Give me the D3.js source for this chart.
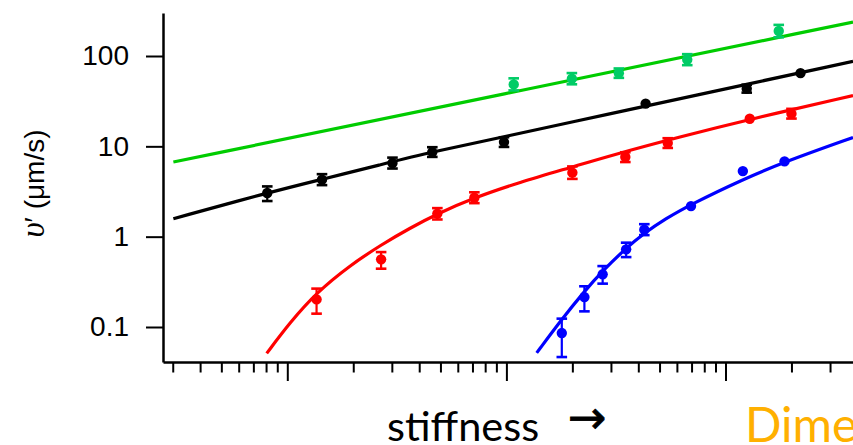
<!DOCTYPE html>
<html><head><meta charset="utf-8">
<script src="https://cdn.jsdelivr.net/npm/d3@7"></script>
<style>body{margin:0;background:#fff;} svg{display:block}</style>
</head><body>
<svg id="c" width="853" height="445"></svg>
<script>
// ---- data ----
const yTicks = [0.1, 1, 10, 100];
const yTickLabels = ["0.1", "1", "10", "100"];

// black series
const blackX  = [0.81, 1.44, 3.02, 4.59, 9.75, 43.2, 125, 220];
const blackY  = [3.04, 4.28, 6.53, 8.64, 11.15, 29.7, 43.5, 64.7];
const blackLo = [2.48, 3.72, 5.68, 7.64, 9.85, null, 39.3, null];
const blackHi = [3.60, 4.92, 7.50, 9.78, 12.6, null, 48.1, null];
const blackFitX = [0.302, 0.810, 1.436, 2.649, 4.575, 9.75, 29.7, 76.5, 382];
const blackFitY = [1.582, 3.054, 4.31, 6.235, 8.686, 12.73, 22.99, 37.6, 87.2];

// red series
const redX  = [1.36, 2.68, 4.84, 7.14, 20.0, 34.9, 54.5, 129, 200];
const redY  = [0.202, 0.561, 1.80, 2.70, 5.11, 7.61, 10.87, 20.2, 23.0];
const redLo = [0.1405, 0.442, 1.55, 2.35, 4.36, 6.7, 9.6, null, 20.3];
const redHi = [0.266, 0.675, 2.07, 3.10, 5.99, 8.6, 12.3, null, 26.0];
const redFitX = [0.8054, 1.0288, 1.362, 1.933, 2.677, 3.631, 4.837, 7.114, 11.54, 19.93, 29.71, 62.0, 129.4, 381.9];
const redFitY = [0.0511, 0.1125, 0.2417, 0.4812, 0.8113, 1.245, 1.788, 2.696, 4.012, 5.895, 7.883, 12.76, 19.94, 36.48];

// green series
const greenX  = [10.8, 19.9, 32.6, 66.9, 175];
const greenY  = [48.5, 56.1, 64.6, 91.1, 189];
const greenLo = [41.6, 48.6, 57.3, 79.2, 161];
const greenHi = [56.6, 64.7, 72.8, 104.8, 221];
const greenFitX = [0.302, 9.35, 382];
const greenFitY = [6.70, 37.2, 237.6];

// blue series
const blueX  = [17.9, 22.7, 27.5, 35.2, 42.6, 69.6, 120, 186];
const blueY  = [0.0857, 0.2145, 0.383, 0.724, 1.195, 2.18, 5.32, 6.82];
const blueLo = [0.0465, 0.149, 0.302, 0.594, 1.04, null, null, null];
const blueHi = [0.1237, 0.2824, 0.4725, 0.858, 1.375, null, null, null];
const blueFitX = [13.75, 17.88, 22.68, 27.52, 35.15, 42.6, 52.95, 69.6, 119.8, 185.5, 381.9];
const blueFitY = [0.0517, 0.1215, 0.248, 0.4194, 0.746, 1.093, 1.566, 2.284, 4.298, 6.714, 12.54];

const yLabelMain = "υ";
const yLabelPrime = "′";
const yLabelRest = " (μm/s)";
const xLabel = "stiffness";
const xArrow = "→";
const cutTitle = "Dime";

// ---- layout ----
const W = 853, H = 445;
const mLeft = 163, mRight = 880, mTop = 13, mBottom = 362;
const svg = d3.select("#c");
svg.append("rect").attr("width", W).attr("height", H).attr("fill", "#fff");

const xs = d3.scaleLog().domain([1, 100]).range([287.3, 725.5]);
xs.domain([xs.invert(mLeft), xs.invert(mRight)]).range([mLeft, mRight]);
const ys = d3.scaleLog().domain([0.1, 100]).range([327, 56]);
ys.domain([ys.invert(mBottom), ys.invert(mTop)]).range([mBottom, mTop]);

const defs = svg.append("defs");
defs.append("clipPath").attr("id", "plot").append("rect")
  .attr("x", mLeft).attr("y", mTop).attr("width", W - mLeft).attr("height", mBottom - mTop);

// ---- axes ----
const xTickVals = xs.ticks();
const isMajor = v => Math.abs(Math.log10(v) - Math.round(Math.log10(v))) < 1e-9;
const gx = svg.append("g").attr("transform", `translate(0,${mBottom})`)
  .call(d3.axisBottom(xs).tickValues(xTickVals).tickFormat("").tickSize(19).tickSizeOuter(0));
gx.selectAll(".tick line").attr("y2", d => isMajor(d) ? 19 : 10.5).attr("stroke-width", 2);
gx.select(".domain").attr("stroke-width", 2.5);

const gy = svg.append("g").attr("transform", `translate(${mLeft},0)`)
  .call(d3.axisLeft(ys).tickValues(yTicks).tickFormat((d, i) => yTickLabels[i])
    .tickSize(17).tickPadding(17).tickSizeOuter(0));
gy.selectAll(".tick line").attr("stroke-width", 2);
gy.select(".domain").attr("stroke-width", 2.5);
gy.selectAll(".tick text").attr("font-family", "'Liberation Sans', Arial, sans-serif")
  .attr("font-size", 28).attr("fill", "#000");

// ---- fits ----
const line = d3.line().x(d => xs(d[0])).y(d => ys(d[1])).curve(d3.curveBasis);
const fits = [
  [greenFitX, greenFitY, "#00cc00"],
  [blackFitX, blackFitY, "#000000"],
  [redFitX, redFitY, "#ff0000"],
  [blueFitX, blueFitY, "#0000ff"]
];
const gf = svg.append("g").attr("clip-path", "url(#plot)");
fits.forEach(([fx, fy, c]) => {
  gf.append("path").datum(d3.zip(fx, fy)).attr("d", line)
    .attr("fill", "none").attr("stroke", c).attr("stroke-width", 3.2);
});

// ---- points ----
const series = [
  [greenX, greenY, greenLo, greenHi, "#00cc66"],
  [blackX, blackY, blackLo, blackHi, "#000000"],
  [redX, redY, redLo, redHi, "#ff0000"],
  [blueX, blueY, blueLo, blueHi, "#0000ff"]
];
const gp = svg.append("g").attr("clip-path", "url(#plot)");
series.forEach(([sx, sy, lo, hi, c]) => {
  sx.forEach((xv, i) => {
    const cx = xs(xv), cy = ys(sy[i]);
    if (lo[i] != null) {
      const y1 = ys(hi[i]), y2 = ys(lo[i]);
      gp.append("line").attr("x1", cx).attr("x2", cx).attr("y1", y1).attr("y2", y2)
        .attr("stroke", c).attr("stroke-width", 2.2);
      [y1, y2].forEach(yy => gp.append("line").attr("x1", cx - 5.3).attr("x2", cx + 5.3)
        .attr("y1", yy).attr("y2", yy).attr("stroke", c).attr("stroke-width", 2.6));
    }
    gp.append("circle").attr("cx", cx).attr("cy", cy).attr("r", 5.2).attr("fill", c);
  });
});

// ---- labels ----
const yl = svg.append("text")
  .attr("transform", "translate(44,183.5) rotate(-90)")
  .attr("text-anchor", "middle")
  .attr("font-family", "'Liberation Sans', Arial, sans-serif")
  .attr("font-size", 28).attr("fill", "#000");
yl.append("tspan").attr("font-family", "'Liberation Serif', 'Times New Roman', serif")
  .attr("font-style", "italic").attr("font-size", 33).text(yLabelMain);
yl.append("tspan").text(yLabelPrime);
yl.append("tspan").text(yLabelRest);

svg.append("text").attr("x", 387).attr("y", 441)
  .attr("font-family", "Lato, sans-serif").attr("font-size", 41.5).attr("fill", "#000")
  .text(xLabel);
svg.append("text").attr("x", 568).attr("y", 433)
  .attr("font-family", "'DejaVu Sans', sans-serif")
  .attr("font-size", 46).attr("fill", "#000").attr("stroke", "#000").attr("stroke-width", 0.8)
  .text(xArrow);
svg.append("text").attr("x", 745).attr("y", 442)
  .attr("font-family", "Lato, sans-serif").attr("font-size", 48).attr("fill", "#ffb000")
  .text(cutTitle);
</script>
</body></html>
